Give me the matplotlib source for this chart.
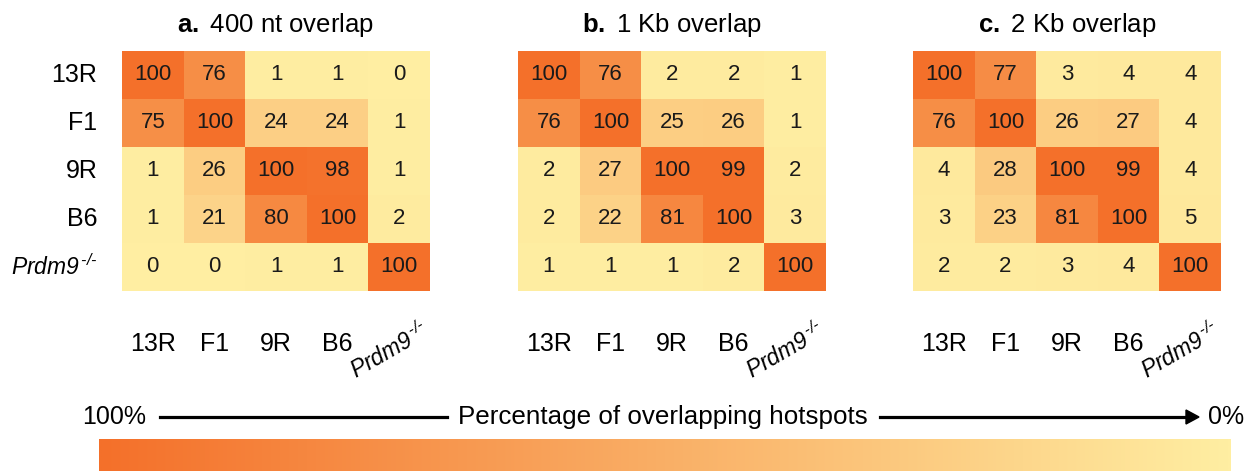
import numpy as np
import matplotlib
matplotlib.use("Agg")
import matplotlib.pyplot as plt
from matplotlib.colors import LinearSegmentedColormap

plt.rcParams['font.family'] = ['Liberation Sans', 'DejaVu Sans']
plt.rcParams['mathtext.fontset'] = 'custom'
# digits go through the rm slot in mathtext, so keep it italic for the gene name
plt.rcParams['mathtext.rm'] = 'Liberation Sans:italic'
plt.rcParams['mathtext.it'] = 'Liberation Sans:italic'
plt.rcParams['mathtext.bf'] = 'Liberation Sans:bold'

strains = ['13R', 'F1', '9R', 'B6', r'$\it{Prdm9}^{\,\text{-/-}}$']
titles = ['400 nt overlap', '1 Kb overlap', '2 Kb overlap']
letters = ['a.', 'b.', 'c.']

overlap_400nt = [[100, 76, 1, 1, 0],
                 [75, 100, 24, 24, 1],
                 [1, 26, 100, 98, 1],
                 [1, 21, 80, 100, 2],
                 [0, 0, 1, 1, 100]]
overlap_1kb = [[100, 76, 2, 2, 1],
               [76, 100, 25, 26, 1],
               [2, 27, 100, 99, 2],
               [2, 22, 81, 100, 3],
               [1, 1, 1, 2, 100]]
overlap_2kb = [[100, 77, 3, 4, 4],
               [76, 100, 26, 27, 4],
               [4, 28, 100, 99, 4],
               [3, 23, 81, 100, 5],
               [2, 2, 3, 4, 100]]

cmap = LinearSegmentedColormap.from_list('hot_overlap', ['#FFEEA2', '#F4702A'])

W, H = 1255, 471
fig = plt.figure(figsize=(W / 100, H / 100), dpi=100)

lefts = [122, 518, 913]
for k, mat in enumerate([overlap_400nt, overlap_1kb, overlap_2kb]):
    ax = fig.add_axes([lefts[k] / W, 1 - 291 / H, 308 / W, 240 / H])
    m = np.array(mat)
    ax.imshow(m, cmap=cmap, vmin=0, vmax=100, aspect='auto', interpolation='nearest')
    for i in range(5):
        for j in range(5):
            ax.text(j, i, str(m[i, j]), ha='center', va='center', fontsize=16, color='#1a1a1a')
    ax.set_xticks([])
    ax.set_yticks([])
    for s in ax.spines.values():
        s.set_visible(False)

    # column labels underneath
    for j, name in enumerate(strains[:4]):
        ax.text(j, 5.6, name, ha='center', va='center', fontsize=18, clip_on=False)
    ax.text(3.85, 5.75, strains[4], ha='center', va='center', fontsize=16.5,
            rotation=30, rotation_mode='anchor', clip_on=False)

    # row labels only on the first panel
    if k == 0:
        for i, name in enumerate(strains):
            fs = 16.5 if i == 4 else 18
            ax.text(-0.9, i, name, ha='right', va='center', fontsize=fs, clip_on=False)

    cx = (lefts[k] + 154) / W
    fig.text(cx, 1 - 32 / H, r'$\bf{' + letters[k] + '}$ ' + titles[k],
             ha='center', va='baseline', fontsize=18.5)

# gradient bar from 100% down to 0%
cax = fig.add_axes([99 / W, 0, (1231 - 99) / W, 32 / H])
grad = np.linspace(100, 0, 512).reshape(1, -1)
cax.imshow(grad, cmap=cmap, vmin=0, vmax=100, aspect='auto')
cax.axis('off')

y_arrow = 1 - 417 / H
fig.text(114 / W, y_arrow, '100%', ha='center', va='center', fontsize=18)
fig.text(663 / W, y_arrow, 'Percentage of overlapping hotspots', ha='center', va='center', fontsize=18.7)
fig.text(1226 / W, y_arrow, '0%', ha='center', va='center', fontsize=18)
fig.add_artist(plt.Line2D([160 / W, 447 / W], [y_arrow, y_arrow], color='black', lw=2.3))
fig.add_artist(plt.Line2D([880 / W, 1188 / W], [y_arrow, y_arrow], color='black', lw=2.3))
fig.patches.append(plt.Polygon([[1186 / W, y_arrow + 7 / H], [1199 / W, y_arrow], [1186 / W, y_arrow - 7 / H]],
                               closed=True, color='black', transform=fig.transFigure, figure=fig))

fig.savefig('out.png', dpi=100)
